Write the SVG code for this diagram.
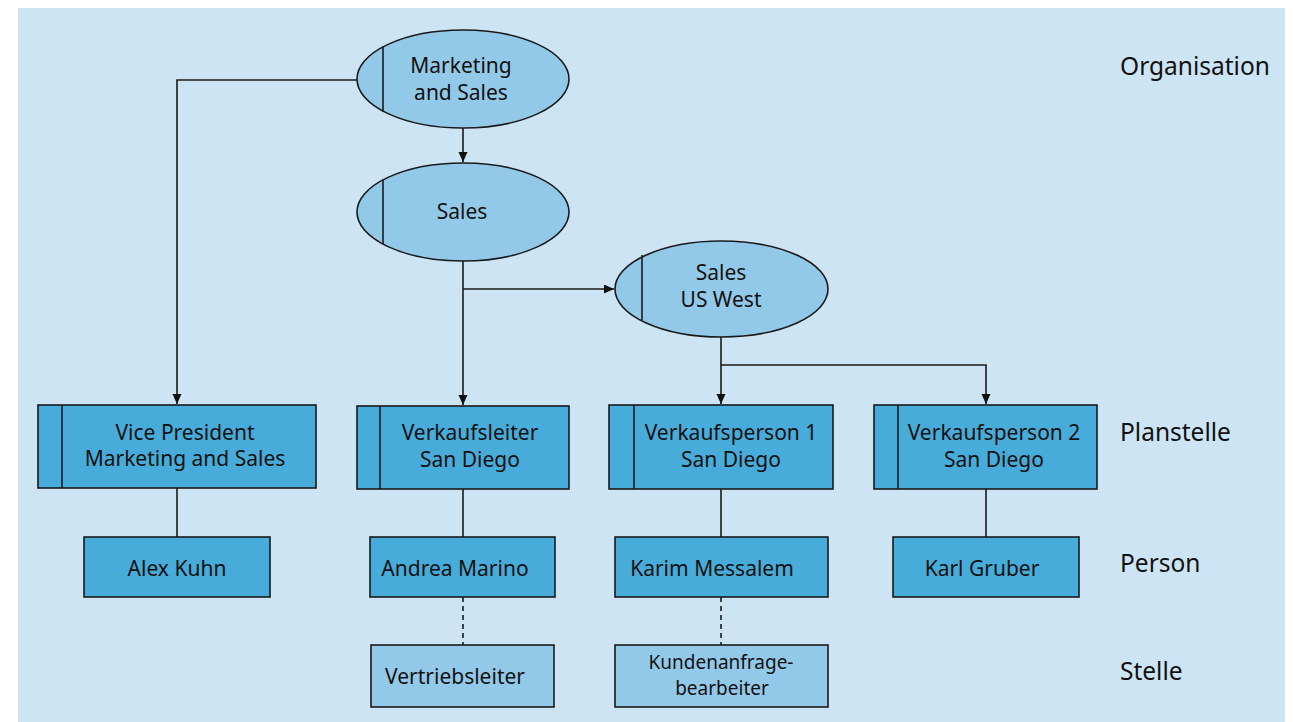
<svg xmlns="http://www.w3.org/2000/svg" width="1293" height="722" viewBox="0 0 1293 722">
<defs>
<marker id="arr" markerUnits="userSpaceOnUse" markerWidth="10" markerHeight="10" refX="10" refY="4.5" orient="auto">
<path d="M0,0 L10,4.5 L0,9 z" fill="#111"/>
</marker>
<style>
.ell{fill:#93c9e8;stroke:#1a1a1a;stroke-width:1.6}
.ps{fill:#47acd9;stroke:#1a1a1a;stroke-width:1.6}
.st{fill:#93c9e8;stroke:#1a1a1a;stroke-width:1.6}
.bar{stroke:#1a1a1a;stroke-width:1.6;fill:none}
.ln{stroke:#1a1a1a;stroke-width:1.6;fill:none}
.dash{stroke:#1a1a1a;stroke-width:1.6;fill:none;stroke-dasharray:5,4}
.t{font-family:"Noto Sans","Open Sans","DejaVu Sans",sans-serif;font-size:21px;fill:#111;text-anchor:middle}
.ts{font-family:"Noto Sans","Open Sans","DejaVu Sans",sans-serif;font-size:19px;fill:#111;text-anchor:middle}
.lbl{font-family:"Noto Sans","Open Sans","DejaVu Sans",sans-serif;font-size:24.5px;fill:#111}
</style>
</defs>
<rect x="18" y="8" width="1267" height="714" fill="#cce4f3"/>

<g id="connectors">
<polyline class="ln" points="357,80 177,80 177,404" marker-end="url(#arr)"/>
<line class="ln" x1="463" y1="128" x2="463" y2="162" marker-end="url(#arr)"/>
<line class="ln" x1="463" y1="261" x2="463" y2="405" marker-end="url(#arr)"/>
<polyline class="ln" points="463,289 614,289" marker-end="url(#arr)"/>
<line class="ln" x1="721" y1="337" x2="721" y2="404" marker-end="url(#arr)"/>
<polyline class="ln" points="721,365 986,365 986,404" marker-end="url(#arr)"/>
<line class="ln" x1="177" y1="488" x2="177" y2="537"/>
<line class="ln" x1="463" y1="489" x2="463" y2="537"/>
<line class="ln" x1="721" y1="489" x2="721" y2="537"/>
<line class="ln" x1="986" y1="489" x2="986" y2="537"/>
<line class="dash" x1="463" y1="597" x2="463" y2="645"/>
<line class="dash" x1="721" y1="597" x2="721" y2="645"/>
</g>

<g id="org-marketing-sales">
<ellipse class="ell" cx="463" cy="79" rx="106" ry="49"/>
<line class="bar" x1="383" y1="46" x2="383" y2="112"/>
<text class="t" x="461" y="73">Marketing</text>
<text class="t" x="461" y="99.5">and Sales</text>
</g>

<g id="org-sales">
<ellipse class="ell" cx="463" cy="212" rx="106" ry="49"/>
<line class="bar" x1="383" y1="179" x2="383" y2="244"/>
<text class="t" x="462" y="219">Sales</text>
</g>

<g id="org-sales-us-west">
<ellipse class="ell" cx="721.5" cy="289" rx="106.5" ry="48"/>
<line class="bar" x1="642" y1="255" x2="642" y2="320"/>
<text class="t" x="721" y="280">Sales</text>
<text class="t" x="721" y="306.5">US West</text>
</g>

<g id="ps-vp">
<rect class="ps" x="38" y="405" width="278" height="83"/>
<line class="bar" x1="62" y1="405" x2="62" y2="488"/>
<text class="t" x="185" y="439.5">Vice President</text>
<text class="t" x="185" y="466">Marketing and Sales</text>
</g>

<g id="ps-verkaufsleiter">
<rect class="ps" x="357" y="406" width="212" height="83"/>
<line class="bar" x1="380" y1="406" x2="380" y2="489"/>
<text class="t" x="470" y="440">Verkaufsleiter</text>
<text class="t" x="470" y="466.5">San Diego</text>
</g>

<g id="ps-verkaufsperson1">
<rect class="ps" x="609" y="405" width="224" height="84"/>
<line class="bar" x1="634" y1="405" x2="634" y2="489"/>
<text class="t" x="731" y="440">Verkaufsperson 1</text>
<text class="t" x="731" y="466.5">San Diego</text>
</g>

<g id="ps-verkaufsperson2">
<rect class="ps" x="874" y="405" width="223" height="84"/>
<line class="bar" x1="898" y1="405" x2="898" y2="489"/>
<text class="t" x="994" y="440">Verkaufsperson 2</text>
<text class="t" x="994" y="466.5">San Diego</text>
</g>

<g id="person-alex">
<rect class="ps" x="84" y="537" width="186" height="60"/>
<text class="t" x="177" y="575.5">Alex Kuhn</text>
</g>

<g id="person-andrea">
<rect class="ps" x="370" y="537" width="185" height="60"/>
<text class="t" x="455" y="575.5">Andrea Marino</text>
</g>

<g id="person-karim">
<rect class="ps" x="615" y="537" width="213" height="60"/>
<text class="t" x="712" y="575.5">Karim Messalem</text>
</g>

<g id="person-karl">
<rect class="ps" x="893" y="537" width="186" height="60"/>
<text class="t" x="982" y="575.5">Karl Gruber</text>
</g>

<g id="stelle-vertriebsleiter">
<rect class="st" x="371" y="645" width="183" height="62"/>
<text class="t" x="455" y="684">Vertriebsleiter</text>
</g>

<g id="stelle-kundenanfrage">
<rect class="st" x="615" y="645" width="213" height="62"/>
<text class="ts" x="721" y="669">Kundenanfrage-</text>
<text class="ts" x="722" y="695">bearbeiter</text>
</g>

<g id="labels">
<text class="lbl" x="1120" y="74.5">Organisation</text>
<text class="lbl" x="1120" y="441">Planstelle</text>
<text class="lbl" x="1120" y="572">Person</text>
<text class="lbl" x="1120" y="679.5">Stelle</text>
</g>
</svg>
